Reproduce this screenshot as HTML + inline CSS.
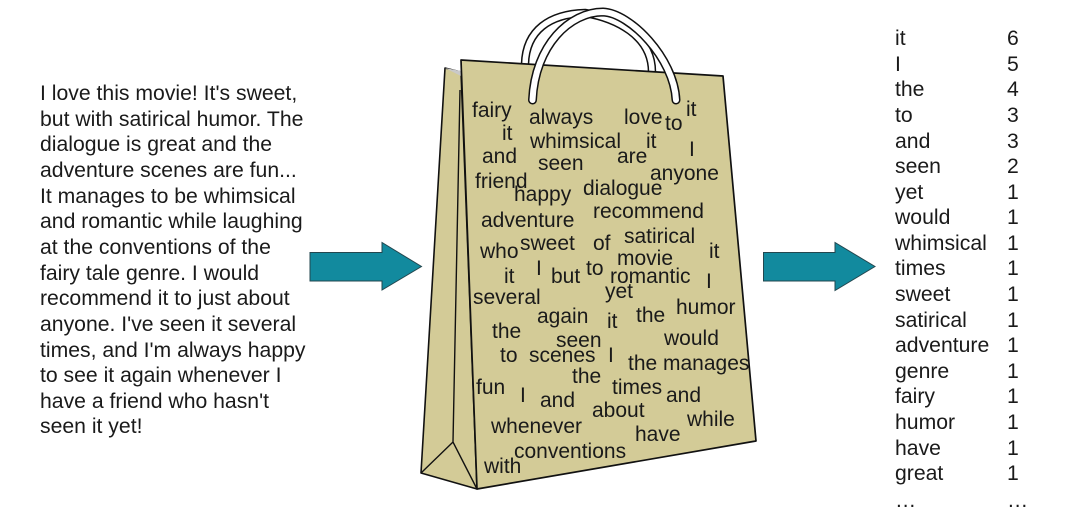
<!DOCTYPE html>
<html>
<head>
<meta charset="utf-8">
<style>
html,body{margin:0;padding:0;background:#fff;width:1067px;height:524px;overflow:hidden}
svg{display:block;font-family:"Liberation Sans",sans-serif;fill:#1a1a1a}
.b text{font-size:21px}
.t text{font-size:21.2px}
</style>
</head>
<body>
<svg width="1067" height="524" viewBox="0 0 1067 524" xmlns="http://www.w3.org/2000/svg">
<g class="t">
<text x="40" y="100">I love this movie! It's sweet,</text>
<text x="40" y="126">but with satirical humor. The</text>
<text x="40" y="151">dialogue is great and the</text>
<text x="40" y="177">adventure scenes are fun...</text>
<text x="40" y="203">It manages to be whimsical</text>
<text x="40" y="228">and romantic while laughing</text>
<text x="40" y="254">at the conventions of the</text>
<text x="40" y="280">fairy tale genre. I would</text>
<text x="40" y="305">recommend it to just about</text>
<text x="40" y="331">anyone. I've seen it several</text>
<text x="40" y="357">times, and I'm always happy</text>
<text x="40" y="382">to see it again whenever I</text>
<text x="40" y="408">have a friend who hasn't</text>
<text x="40" y="433">seen it yet!</text>
</g>

<polygon points="310,252.5 382,252.5 382,242.5 421.5,266.5 382,290 382,281 310,281" fill="#128a9e" stroke="#23474f" stroke-width="1"/>
<polygon points="763.5,252.5 835,252.5 835,242.5 875,266.5 835,290.5 835,281 763.5,281" fill="#128a9e" stroke="#23474f" stroke-width="1"/>

<!-- back handle -->
<path d="M525,64 C526,30 550,14 585,13 C615,18 652,35 652,72" fill="none" stroke="#111" stroke-width="8.5"/>
<path d="M525,64 C526,30 550,14 585,13 C615,18 652,35 652,72" fill="none" stroke="#fff" stroke-width="5.5"/>

<!-- bag -->
<polygon points="445,68 461,72 477,489 421,473" fill="#d3cb97" stroke="#111" stroke-width="1.6" stroke-linejoin="round"/>
<polygon points="445,68 461,71 461,76" fill="#c9c9c9"/>
<path d="M460,90 L453,442 M421,473 L453,442 L477,489" fill="none" stroke="#111" stroke-width="1.4"/>
<polygon points="461,60 723,76 756,441 477,489" fill="#d3cb97" stroke="#111" stroke-width="1.7" stroke-linejoin="round"/>

<!-- front handle -->
<path d="M532.5,100 C535,45 570,12 603,12 C630,13 674,58 676,100" fill="none" stroke="#111" stroke-width="9" stroke-linecap="round"/>
<path d="M532.5,100 C535,45 570,12 603,12 C630,13 674,58 676,100" fill="none" stroke="#fff" stroke-width="6" stroke-linecap="round"/>

<g class="b">
<text x="472" y="117">fairy</text>
<text x="529" y="124">always</text>
<text x="624" y="124">love</text>
<text x="665" y="130">to</text>
<text x="686" y="116">it</text>
<text x="502" y="140">it</text>
<text x="530" y="148">whimsical</text>
<text x="646" y="148">it</text>
<text x="689" y="156">I</text>
<text x="482" y="163">and</text>
<text x="538" y="170">seen</text>
<text x="617" y="163">are</text>
<text x="650" y="180">anyone</text>
<text x="475" y="188">friend</text>
<text x="514" y="201">happy</text>
<text x="583" y="195">dialogue</text>
<text x="481" y="227">adventure</text>
<text x="593" y="218">recommend</text>
<text x="480" y="258">who</text>
<text x="520" y="250">sweet</text>
<text x="593" y="250">of</text>
<text x="624" y="243">satirical</text>
<text x="709" y="258">it</text>
<text x="617" y="265">movie</text>
<text x="504" y="283">it</text>
<text x="536" y="275">I</text>
<text x="551" y="283">but</text>
<text x="586" y="275">to</text>
<text x="610" y="283">romantic</text>
<text x="706" y="288">I</text>
<text x="473" y="304">several</text>
<text x="605" y="298">yet</text>
<text x="537" y="323">again</text>
<text x="607" y="328">it</text>
<text x="636" y="322">the</text>
<text x="676" y="314">humor</text>
<text x="492" y="338">the</text>
<text x="556" y="347">seen</text>
<text x="664" y="345">would</text>
<text x="500" y="362">to</text>
<text x="529" y="362">scenes</text>
<text x="608" y="362">I</text>
<text x="628" y="370">the</text>
<text x="663" y="370">manages</text>
<text x="572" y="383">the</text>
<text x="476" y="394">fun</text>
<text x="520" y="402">I</text>
<text x="540" y="407">and</text>
<text x="612" y="394">times</text>
<text x="666" y="402">and</text>
<text x="592" y="417">about</text>
<text x="687" y="426">while</text>
<text x="491" y="433">whenever</text>
<text x="635" y="441">have</text>
<text x="514" y="458">conventions</text>
<text x="484" y="473">with</text>
</g>

<g class="t">
<text x="895" y="45">it</text><text x="1007" y="45">6</text>
<text x="895" y="71">I</text><text x="1007" y="71">5</text>
<text x="895" y="96">the</text><text x="1007" y="96">4</text>
<text x="895" y="122">to</text><text x="1007" y="122">3</text>
<text x="895" y="148">and</text><text x="1007" y="148">3</text>
<text x="895" y="173">seen</text><text x="1007" y="173">2</text>
<text x="895" y="199">yet</text><text x="1007" y="199">1</text>
<text x="895" y="224">would</text><text x="1007" y="224">1</text>
<text x="895" y="250">whimsical</text><text x="1007" y="250">1</text>
<text x="895" y="275">times</text><text x="1007" y="275">1</text>
<text x="895" y="301">sweet</text><text x="1007" y="301">1</text>
<text x="895" y="327">satirical</text><text x="1007" y="327">1</text>
<text x="895" y="352">adventure</text><text x="1007" y="352">1</text>
<text x="895" y="378">genre</text><text x="1007" y="378">1</text>
<text x="895" y="403">fairy</text><text x="1007" y="403">1</text>
<text x="895" y="429">humor</text><text x="1007" y="429">1</text>
<text x="895" y="455">have</text><text x="1007" y="455">1</text>
<text x="895" y="480">great</text><text x="1007" y="480">1</text>
<text x="895" y="507">…</text><text x="1007" y="507">…</text>
</g>
</svg>
</body>
</html>
